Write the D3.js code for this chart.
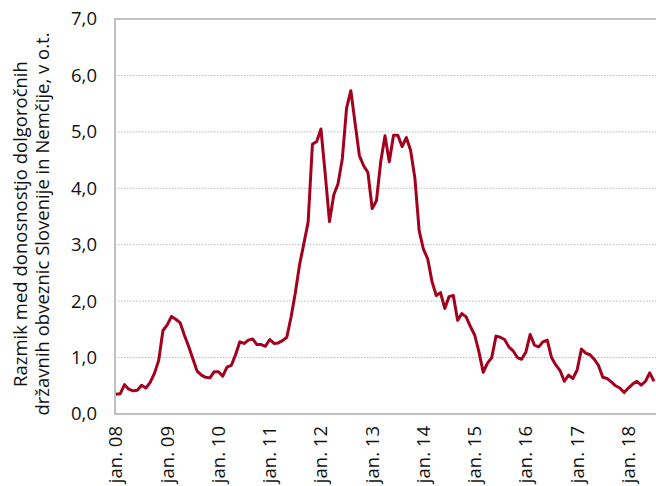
<!DOCTYPE html>
<html><head><meta charset="utf-8">
<script src="https://cdn.jsdelivr.net/npm/d3@7"></script>
<style>html,body{margin:0;padding:0;background:#fff;}svg{display:block;}</style>
</head><body>
<svg id="c" width="656" height="486"></svg>
<script>
// Monthly spread, Jan 2008 – Jul 2018 (percentage points)
const spread = [
0.35,0.36,0.52,0.44,0.41,0.42,0.51,0.46,0.56,0.72,0.95,1.48,
1.58,1.73,1.68,1.62,1.40,1.20,0.98,0.76,0.69,0.65,0.64,0.75,
0.75,0.67,0.83,0.86,1.05,1.28,1.25,1.31,1.33,1.23,1.23,1.20,
1.32,1.25,1.26,1.30,1.36,1.72,2.15,2.65,3.02,3.40,4.78,4.83,
5.05,4.25,3.41,3.88,4.08,4.52,5.42,5.73,5.15,4.58,4.40,4.28,
3.64,3.78,4.47,4.93,4.47,4.94,4.94,4.74,4.90,4.67,4.18,3.25,
2.92,2.75,2.35,2.10,2.15,1.87,2.08,2.10,1.66,1.78,1.72,1.55,
1.40,1.10,0.74,0.90,1.00,1.38,1.36,1.32,1.19,1.12,1.00,0.97,
1.10,1.41,1.22,1.19,1.28,1.31,1.00,0.87,0.77,0.58,0.69,0.63,
0.78,1.15,1.08,1.05,0.97,0.86,0.65,0.63,0.57,0.50,0.46,0.38,
0.46,0.53,0.58,0.51,0.58,0.73,0.58
];
const xTickLabels = ["jan. 08","jan. 09","jan. 10","jan. 11","jan. 12","jan. 13","jan. 14","jan. 15","jan. 16","jan. 17","jan. 18"];
const yTicks = [0,1,2,3,4,5,6,7];
const yTitle = ["Razmik med donosnostjo dolgoročnih","državnih obveznic Slovenije in Nemčije, v o.t."];

const FONT = "'Open Sans', 'Noto Sans', sans-serif";
const FS = 18.5;
const svg = d3.select("#c");
const L = 115, T = 19, B = 414, R = 658;
const x = d3.scaleLinear().domain([0, 126]).range([116, 654]);
const y = d3.scaleLinear().domain([0, 7]).range([B, T]);

// gridlines
svg.append("g").selectAll("line").data(yTicks.filter(d => d > 0 && d < 7)).join("line")
  .attr("x1", L).attr("x2", R).attr("y1", d => y(d)).attr("y2", d => y(d))
  .attr("stroke", "#b8b8b8").attr("stroke-width", 1).attr("stroke-dasharray", "1.5,1.5");

// frame
svg.append("rect").attr("x", L).attr("y", T).attr("width", R - L).attr("height", B - T)
  .attr("fill", "none").attr("stroke", "#c0c0c0").attr("stroke-width", 2);

// y axis labels
const fmt = d => d3.format(".1f")(d).replace(".", ",");
svg.append("g").selectAll("text").data(yTicks).join("text")
  .attr("x", 97).attr("y", d => y(d)).attr("dy", "0.35em")
  .attr("text-anchor", "end").attr("font-family", FONT).attr("font-size", FS).attr("fill", "#111")
  .text(fmt);

// x axis labels
svg.append("g").selectAll("text").data(xTickLabels).join("text")
  .attr("transform", (d, i) => `translate(${x(i * 12)},426) rotate(-90)`)
  .attr("dy", "0.35em").attr("text-anchor", "end")
  .attr("font-family", FONT).attr("font-size", FS).attr("fill", "#111")
  .text(d => d);

// y title
svg.append("g").selectAll("text").data(yTitle).join("text")
  .attr("transform", (d, i) => `translate(${27 + i * 22},224) rotate(-90)`)
  .attr("text-anchor", "middle").attr("font-family", FONT).attr("font-size", FS).attr("fill", "#111")
  .text(d => d);

// line
const line = d3.line().x((d, i) => x(i)).y(d => y(d));
svg.append("path").datum(spread).attr("d", line)
  .attr("fill", "none").attr("stroke", "#a3001e").attr("stroke-width", 3).attr("stroke-linejoin", "round");
</script>
</body></html>
